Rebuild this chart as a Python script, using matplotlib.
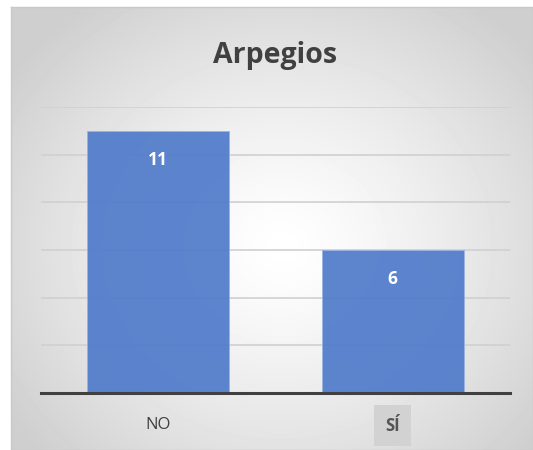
import numpy as np
import matplotlib.pyplot as plt

categorias = ["NO", "SÍ"]
valores = [11, 6]
titulo = "Arpegios"

plt.rcParams['font.family'] = ['Open Sans', 'DejaVu Sans']

fig = plt.figure(figsize=(5.33, 4.5), dpi=100)

# fondo con degradado radial
bg = fig.add_axes([11/533, 0, 522/533, 443/450])
yy, xx = np.mgrid[0:443, 0:522]
r = np.sqrt(((xx - 270) / 330.0) ** 2 + ((yy - 240) / 300.0) ** 2)
r = np.clip(r, 0, 1)
img = 1.0 - 0.19 * r ** 1.3
bg.imshow(img, cmap='gray', vmin=0, vmax=1, aspect='auto', interpolation='bilinear')
bg.set_xticks([])
bg.set_yticks([])
for s in bg.spines.values():
    s.set_color('#c8c8c8')
    s.set_linewidth(1)

ax = fig.add_axes([41/533, 57/450, 469/533, 286/450])
ax.patch.set_alpha(0)
x = np.arange(len(categorias))
ax.set_xlim(-0.5, len(categorias) - 0.5)
ax.set_ylim(0, 12)
ax.set_yticks(range(0, 13, 2))
ax.yaxis.grid(True, color='#d0d0d0', linewidth=1.2, zorder=0)
ax.set_axisbelow(True)
bars = ax.bar(x, valores, width=0.605, color='#4f7bcb', alpha=0.92, zorder=2,
              edgecolor='#9bb3e0', linewidth=0.6)
for b, v in zip(bars, valores):
    ax.annotate(str(v), (b.get_x() + b.get_width() / 2, v), xytext=(0, -21),
                textcoords='offset points', ha='center', va='center',
                color='white', fontsize=12.5, fontweight='bold', zorder=3)

for s in ['top', 'right', 'left']:
    ax.spines[s].set_visible(False)
ax.spines['bottom'].set_color('#404040')
ax.spines['bottom'].set_linewidth(2.2)
ax.spines['bottom'].set_zorder(4)
ax.tick_params(axis='y', left=False, labelleft=False)
ax.tick_params(axis='x', length=0, pad=17, labelsize=12, labelcolor='#404040')
ax.set_xticks(x)
ax.set_xticklabels(categorias)
lbls = ax.get_xticklabels()
lbls[1].set_bbox(dict(facecolor='#d2d2d2', edgecolor='none', pad=8))
lbls[1].set_fontweight('bold')
lbls[1].set_color('#555555')

fig.text(275/533, 1 - 55/450, titulo, ha='center', va='center', fontsize=20.5,
         fontweight='bold', color='#404040')

fig.savefig('out.png', dpi=100)
